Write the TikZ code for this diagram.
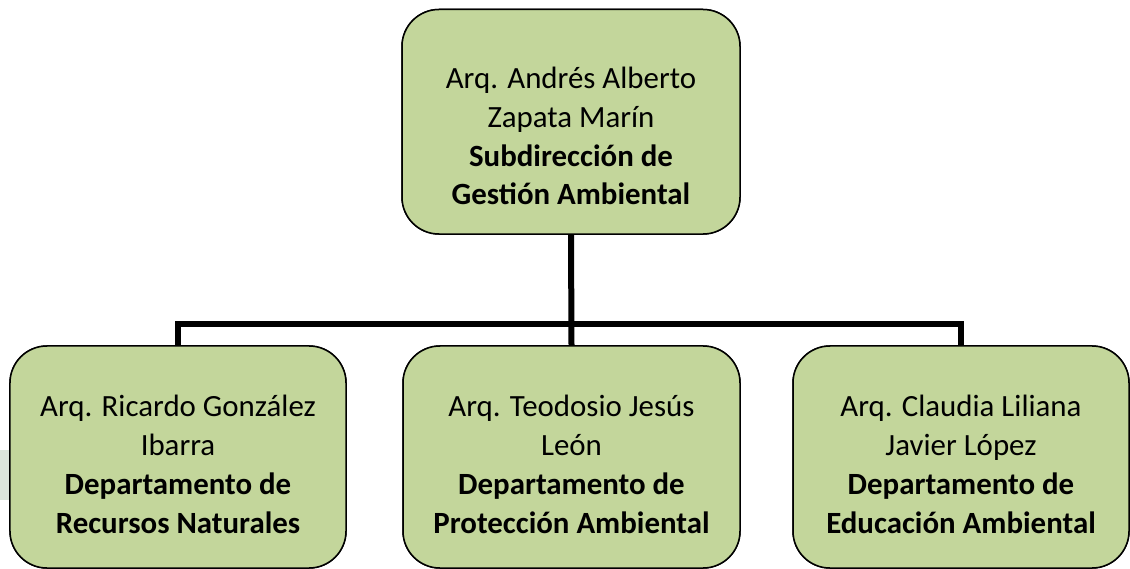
\documentclass[tikz,border=0pt]{standalone}
\usepackage{fontspec}
\setmainfont{Carlito}
\definecolor{boxgreen}{HTML}{C3D69B}
\definecolor{faint}{HTML}{DCE5DC}
\begin{document}
\begin{tikzpicture}[x=1bp,y=-1bp,
  orgbox/.style={draw=black, line width=1.5bp, fill=boxgreen, rounded corners=37bp,
    rectangle, inner sep=0pt},
  orgtext/.style={align=center, anchor=base, inner sep=0pt,
    font=\fontsize{31}{39}\selectfont},
  conn/.style={line width=6bp, line join=miter, draw=black}]
\useasboundingbox (0,0) rectangle (1130,569);
\fill[faint] (0,450) rectangle (20,500);
% boxes (positions)
\coordinate (bus) at (571,324);
\node[orgbox, minimum width=338bp, minimum height=224.5bp] (top) at (571,121.75) {};
\node[orgbox, minimum width=336bp, minimum height=222bp] (left) at (178,457) {};
\node[orgbox, minimum width=337bp, minimum height=222bp] (mid) at (571.5,457) {};
\node[orgbox, minimum width=336bp, minimum height=222bp] (right) at (961,457) {};
% connectors
\draw[conn] (top.south) -- (mid.north);
\draw[conn] (left.north) -- (left.north |- bus) -- (right.north |- bus) -- (right.north);
% redraw boxes over the connectors
\node[orgbox, minimum width=338bp, minimum height=224.5bp] at (top) {};
\node[orgbox, minimum width=336bp, minimum height=222bp] at (left) {};
\node[orgbox, minimum width=337bp, minimum height=222bp] at (mid) {};
\node[orgbox, minimum width=336bp, minimum height=222bp] at (right) {};
% texts (anchor = baseline of last line)
\node[orgtext] (toptext) at (571,205) {Arq. Andrés Alberto\\Zapata Marín\\\textbf{Subdirección de}\\\textbf{Gestión Ambiental}};
\node[orgtext] (lefttext) at (178,533) {Arq. Ricardo González\\Ibarra\\\textbf{Departamento de}\\\textbf{Recursos Naturales}};
\node[orgtext] (midtext) at (571.5,533) {Arq. Teodosio Jesús\\León\\\textbf{Departamento de}\\\textbf{Protección Ambiental}};
\node[orgtext] (righttext) at (961,533) {Arq. Claudia Liliana\\Javier López\\\textbf{Departamento de}\\\textbf{Educación Ambiental}};
\end{tikzpicture}
\end{document}
